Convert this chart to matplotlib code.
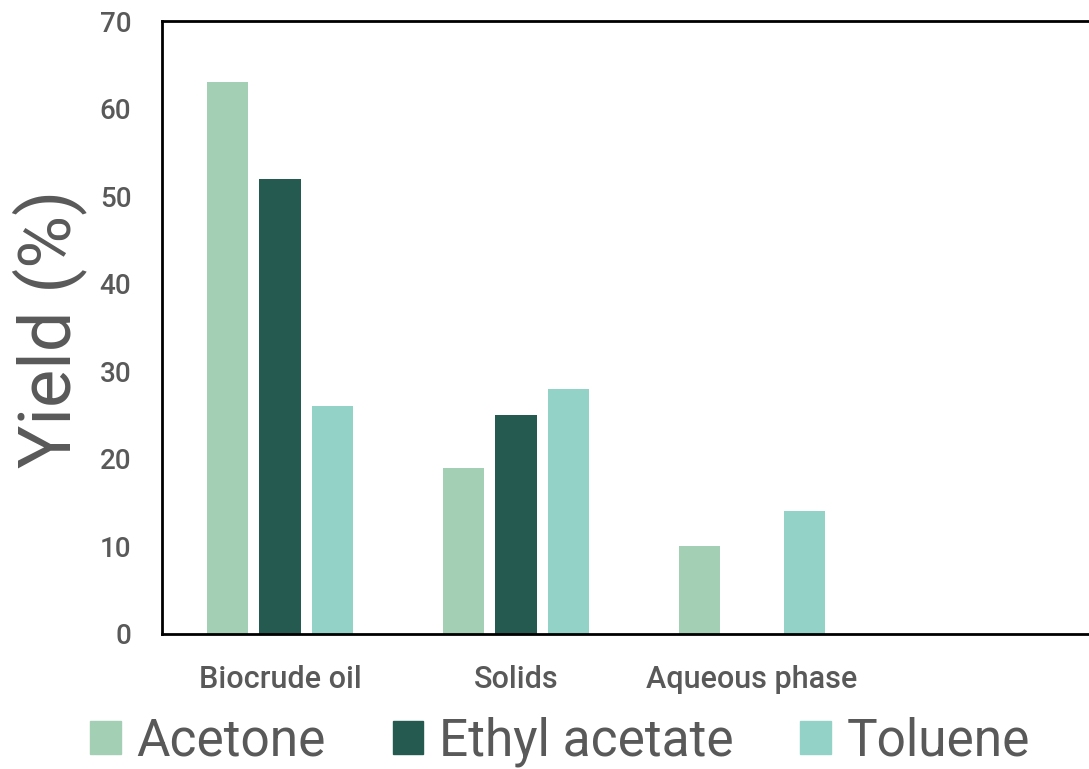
import numpy as np
import matplotlib.pyplot as plt
from matplotlib.patches import Patch

plt.rcParams['font.family'] = ['Roboto', 'DejaVu Sans']

categories = ['Biocrude oil', 'Solids', 'Aqueous phase']
solvents = ['Acetone', 'Ethyl acetate', 'Toluene']
acetone = [63, 19, 10]
ethyl_acetate = [52, 25, 0]
toluene = [26, 28, 14]
colors = ['#A3D0B4', '#245A50', '#93D3C7']
text_grey = '#595959'

fig = plt.figure(figsize=(10.89, 7.69), dpi=100)
# axes runs past the right edge of the figure
ax = fig.add_axes([162 / 1089, 1 - 634 / 769, 944 / 1089, 613 / 769])

x = np.arange(len(categories))
step = 0.222
width = 0.174
for i, (vals, c) in enumerate(zip([acetone, ethyl_acetate, toluene], colors)):
    ax.bar(x + (i - 1) * step, vals, width, color=c, edgecolor='none')

ax.set_xlim(-0.5, 3.5)
ax.set_ylim(0, 70)
ax.set_yticks(range(0, 71, 10))
ax.set_xticks(x)
ax.tick_params(axis='both', length=0, colors=text_grey)
ax.tick_params(axis='y', pad=22, labelsize=20)
ax.tick_params(axis='x', pad=22, labelsize=22)
ax.set_xticklabels(categories, fontweight='medium')
for lbl in ax.get_yticklabels():
    lbl.set_fontweight('medium')
for s in ax.spines.values():
    s.set_color('black')
    s.set_linewidth(2)

fig.text(50 / 1089, 1 - 329 / 769, 'Yield (%)', rotation=90, ha='center', va='center',
         fontsize=52, color=text_grey)

handles = [Patch(color=c) for c in colors]
fig.legend(handles, solvents, loc='center', bbox_to_anchor=(560 / 1089, 1 - 742 / 769),
           ncol=3, frameon=False, fontsize=37, labelcolor=text_grey,
           handlelength=0.6, handleheight=0.6, handletextpad=0.3, columnspacing=1.3)

fig.savefig('out.png', dpi=100)
